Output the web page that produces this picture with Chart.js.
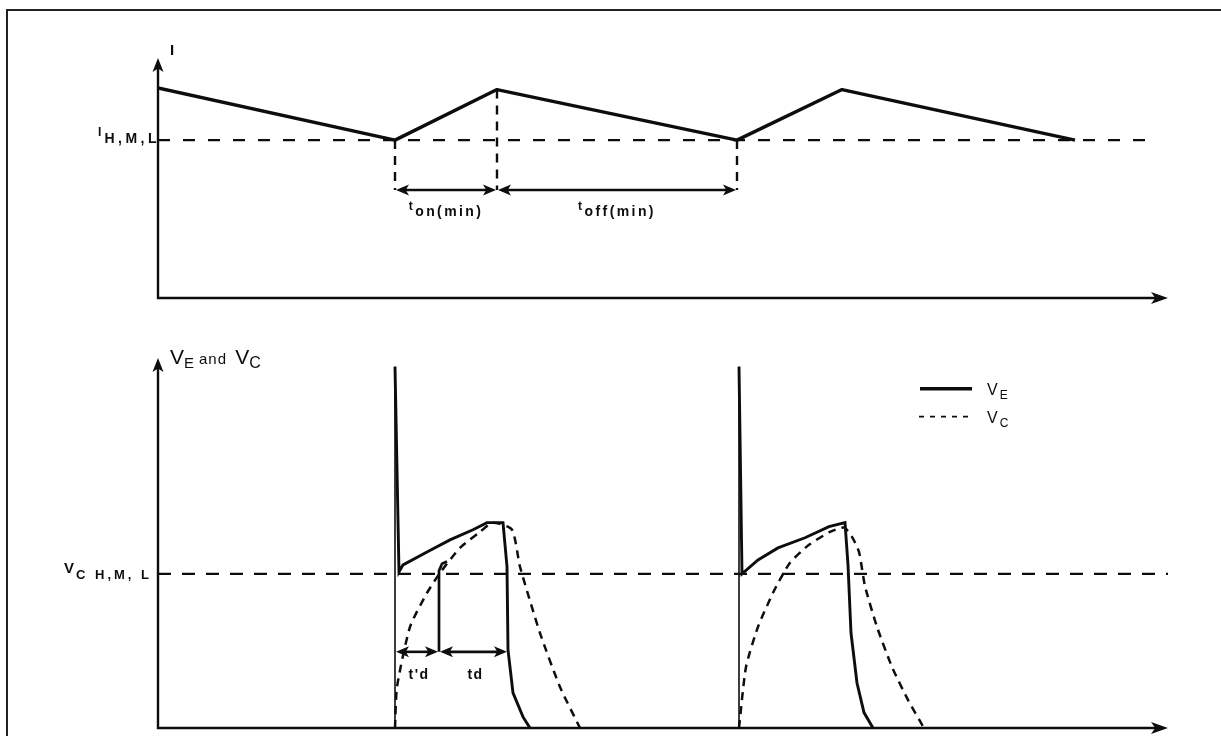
<!DOCTYPE html>
<html>
<head>
<meta charset="utf-8">
<script src="https://cdn.jsdelivr.net/npm/chart.js@4.4.1/dist/chart.umd.min.js"></script>
<style>
  html, body { margin: 0; padding: 0; background: #fff; }
  body { width: 1221px; height: 736px; position: relative; overflow: hidden; }
  #frame { position: absolute; left: 6px; top: 9px; width: 1260px; height: 760px;
           border-top: 2px solid #222; border-left: 2px solid #222; }
  canvas { position: absolute; left: 0; }
  #top { top: 0; }
  #bottom { top: 310px; }
</style>
</head>
<body>
<div id="frame"></div>
<canvas id="top" width="1221" height="310"></canvas>
<canvas id="bottom" width="1221" height="426"></canvas>
<script>
// shared time axis (arbitrary units)
const timeMax = 101;

// upper panel: current I
const currentMax = 7.6;
const currentLevel = 5;
const currentTime = [0, 23.7, 33.9, 57.9, 68.4, 91.7];
const currentValue = [6.65, 5, 6.6, 5, 6.6, 5];
const currentMarks = [23.7, 33.9, 57.9];
const currentSpans = [[23.7, 33.9], [33.9, 57.9]];
const currentSpanNames = ['on(min)', 'off(min)'];
const currentSpanLevel = 3.42;
const currentNameLevel = 2.65;

// lower panel: VE and VC
const voltMax = 12;
const voltLevel = 5;
const ve1Time = [23.7, 23.7, 24.1, 24.5, 26.9, 29.2, 31.5, 32.9, 34.5, 34.9, 35.0, 35.5, 36.5, 37.2];
const ve1Value = [0, 11.72, 5.06, 5.29, 5.71, 6.10, 6.43, 6.66, 6.66, 5.23, 2.53, 1.14, 0.36, 0];
const vc1Time = [23.7, 23.9, 25.2, 26.9, 28.2, 30.2, 32.2, 33.5, 35.4, 36.2, 38.2, 40.2, 42.2];
const vc1Value = [0, 1.33, 3.28, 4.38, 5.03, 5.84, 6.36, 6.66, 6.43, 5.23, 3.08, 1.33, 0];
const ve2Time = [58.1, 58.1, 58.4, 60.0, 62.0, 64.7, 67.1, 68.7, 69.0, 69.3, 69.9, 70.6, 71.5];
const ve2Value = [0, 11.72, 5.0, 5.45, 5.84, 6.17, 6.53, 6.66, 5.29, 3.08, 1.46, 0.5, 0];
const vc2Time = [58.1, 58.8, 60.0, 61.6, 63.2, 65.1, 67.2, 68.6, 69.4, 70.1, 70.7, 71.9, 73.4, 75.0, 76.6];
const vc2Value = [0, 1.98, 3.28, 4.45, 5.36, 5.94, 6.36, 6.5, 6.2, 5.71, 4.6, 3.28, 1.98, 0.91, 0];
const delayMarkTime = [28.1, 28.1, 28.4, 28.9];
const delayMarkValue = [2.47, 5.1, 5.33, 5.4];
const delaySpans = [[23.7, 28.1], [28.1, 35.0]];
const delayNames = ["t'd", 'td'];
const delaySpanLevel = 2.47;
const delayNameLevel = 1.75;
const legendTime = [76.2, 81.4, 82.9];
const legendLevels = [11.0, 10.1];

const ink = '#0d0d0d';
const family = "'Liberation Sans', Arial, sans-serif";

const pts = (xs, ys) => xs.map((x, i) => ({ x: x, y: ys[i] }));

function head(ctx, x, y, angle, len, half) {
  ctx.save();
  ctx.translate(x, y);
  ctx.rotate(angle);
  ctx.beginPath();
  ctx.moveTo(0, 0);
  ctx.lineTo(-len, -half);
  ctx.lineTo(-len * 0.75, 0);
  ctx.lineTo(-len, half);
  ctx.closePath();
  ctx.fill();
  ctx.restore();
}

// parts: [text, size, dy, letter spacing, bold]
function text(ctx, parts, x, y, align) {
  const font = p => {
    ctx.font = (p[4] ? 'bold ' : '') + p[1] + 'px ' + family;
    ctx.letterSpacing = (p[3] || 0) + 'px';
  };
  let w = 0;
  parts.forEach(p => { font(p); w += ctx.measureText(p[0]).width; });
  let cx = align === 'center' ? x - w / 2 : align === 'right' ? x - w : x;
  ctx.textAlign = 'left';
  ctx.textBaseline = 'alphabetic';
  parts.forEach(p => {
    font(p);
    ctx.fillText(p[0], cx, y + (p[2] || 0));
    cx += ctx.measureText(p[0]).width;
  });
  ctx.letterSpacing = '0px';
}

function axes(ctx, a) {
  ctx.lineWidth = 2.4;
  ctx.beginPath();
  ctx.moveTo(a.left, a.top + 10);
  ctx.lineTo(a.left, a.bottom);
  ctx.lineTo(a.right - 10, a.bottom);
  ctx.stroke();
  head(ctx, a.left, a.top, -Math.PI / 2, 14, 5.5);
  head(ctx, a.right, a.bottom, 0, 17, 6);
}

function spans(ctx, chart, list, level) {
  const x = chart.scales.x, y = chart.scales.y;
  const py = y.getPixelForValue(level);
  ctx.lineWidth = 2.6;
  list.forEach(s => {
    const p0 = x.getPixelForValue(s[0]), p1 = x.getPixelForValue(s[1]);
    ctx.beginPath();
    ctx.moveTo(p0 + 6, py);
    ctx.lineTo(p1 - 6, py);
    ctx.stroke();
    head(ctx, p0 + 1, py, Math.PI, 13, 5.5);
    head(ctx, p1 - 1, py, 0, 13, 5.5);
  });
}

const topDecor = {
  id: 'topDecor',
  afterDatasetsDraw(chart) {
    const ctx = chart.ctx, a = chart.chartArea;
    const x = chart.scales.x, y = chart.scales.y;
    ctx.save();
    ctx.fillStyle = ink;
    ctx.strokeStyle = ink;
    axes(ctx, a);
    spans(ctx, chart, currentSpans, currentSpanLevel);
    text(ctx, [['I', 15, 0, 0, true]], a.left + 12, a.top - 3, 'left');
    const ly = y.getPixelForValue(currentLevel);
    text(ctx, [['I', 12, -4, 3, true], ['H,M,L', 14, 3, 3.5, true]], a.left + 2, ly, 'right');
    const ny = y.getPixelForValue(currentNameLevel);
    currentSpans.forEach((s, i) => {
      const cx = x.getPixelForValue((s[0] + s[1]) / 2);
      text(ctx, [['t', 12, -4, 2.5, true], [currentSpanNames[i], 14, 2, 2.4, true]], cx, ny, 'center');
    });
    ctx.restore();
  }
};

const bottomDecor = {
  id: 'bottomDecor',
  afterDatasetsDraw(chart) {
    const ctx = chart.ctx, a = chart.chartArea;
    const x = chart.scales.x, y = chart.scales.y;
    ctx.save();
    ctx.fillStyle = ink;
    ctx.strokeStyle = ink;
    axes(ctx, a);
    spans(ctx, chart, delaySpans, delaySpanLevel);
    text(ctx, [['V', 21], ['E', 15, 4, 5], ['and', 15, 0, 1], [' ', 15, 0, 4], ['V', 21], ['C', 16, 4]],
      a.left + 12, a.top + 6, 'left');
    const ly = y.getPixelForValue(voltLevel);
    text(ctx, [['V', 15, -1, 2, true], ['C H,M, L', 13, 5, 3, true]], a.left - 6, ly, 'right');
    const ny = y.getPixelForValue(delayNameLevel);
    delaySpans.forEach((s, i) => {
      const cx = x.getPixelForValue((s[0] + s[1]) / 2) + 2;
      text(ctx, [[delayNames[i], 14, 0, 1.5, true]], cx, ny + 5, 'center');
    });
    // legend
    const lx0 = x.getPixelForValue(legendTime[0]), lx1 = x.getPixelForValue(legendTime[1]);
    const lt = x.getPixelForValue(legendTime[2]);
    const y0 = y.getPixelForValue(legendLevels[0]), y1 = y.getPixelForValue(legendLevels[1]);
    ctx.lineWidth = 3.5;
    ctx.beginPath(); ctx.moveTo(lx0, y0); ctx.lineTo(lx1, y0); ctx.stroke();
    ctx.lineWidth = 1.8;
    ctx.setLineDash([5, 6]);
    ctx.beginPath(); ctx.moveTo(lx0 - 1, y1); ctx.lineTo(lx1 + 2, y1); ctx.stroke();
    ctx.setLineDash([]);
    text(ctx, [['V', 16, 0, 2], ['E', 12, 4]], lt, y0 + 6, 'left');
    text(ctx, [['V', 16, 0, 2], ['C', 12, 4]], lt, y1 + 6, 'left');
    ctx.restore();
  }
};

function options(padding, yMax) {
  return {
    responsive: false,
    animation: false,
    layout: { padding: padding },
    plugins: { legend: { display: false }, tooltip: { enabled: false } },
    elements: { point: { radius: 0 }, line: { tension: 0 } },
    scales: {
      x: { type: 'linear', min: 0, max: timeMax, display: false },
      y: { type: 'linear', min: 0, max: yMax, display: false }
    }
  };
}

const line = (data, extra) => Object.assign({
  data: data, showLine: true, borderColor: ink, borderWidth: 2.2, pointRadius: 0, fill: false
}, extra);

const markTop = t => currentValue[currentTime.indexOf(t)];

new Chart(document.getElementById('top'), {
  type: 'scatter',
  data: {
    datasets: [
      line(pts(currentTime, currentValue), { borderWidth: 3.4, borderJoinStyle: 'round' }),
      line([{ x: 0, y: currentLevel }, { x: 100, y: currentLevel }], { borderDash: [12, 13], borderWidth: 2.4 })
    ].concat(currentMarks.map(t =>
      line([{ x: t, y: markTop(t) }, { x: t, y: currentSpanLevel }], { borderDash: [9, 7], borderWidth: 2.4 })
    ))
  },
  options: options({ left: 158, right: 53, top: 58, bottom: 12 }, currentMax),
  plugins: [topDecor]
});

const thinRise = { borderWidth: c => c.p0DataIndex === 0 ? 1.6 : 2.9 };

new Chart(document.getElementById('bottom'), {
  type: 'scatter',
  data: {
    datasets: [
      line([{ x: 0, y: voltLevel }, { x: timeMax, y: voltLevel }], { borderDash: [13, 11], borderWidth: 2.4 }),
      line(pts(ve1Time, ve1Value), { borderWidth: 2.9, segment: thinRise }),
      line(pts(ve2Time, ve2Value), { borderWidth: 2.9, segment: thinRise }),
      line(pts(vc1Time, vc1Value), { borderDash: [8, 6], borderWidth: 2.5, tension: 0.2 }),
      line(pts(vc2Time, vc2Value), { borderDash: [8, 6], borderWidth: 2.5, tension: 0.2 }),
      line(pts(delayMarkTime, delayMarkValue), { borderWidth: 2.7 })
    ]
  },
  options: options({ left: 158, right: 53, top: 48, bottom: 8 }, voltMax),
  plugins: [bottomDecor]
});
</script>
</body>
</html>
